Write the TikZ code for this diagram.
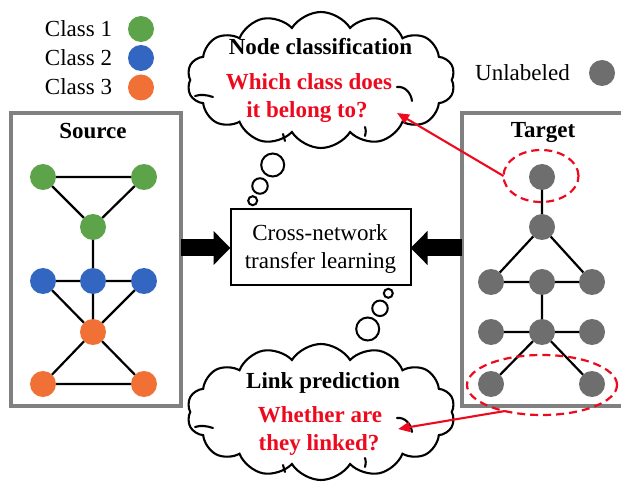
\documentclass[tikz,border=0pt]{standalone}
\usepackage{fontspec}
\setmainfont{Liberation Serif}
\usetikzlibrary{shapes.geometric,shapes.symbols,arrows.meta}
\definecolor{cgreen}{RGB}{92,163,74}
\definecolor{cblue}{RGB}{50,102,192}
\definecolor{corange}{RGB}{240,112,54}
\definecolor{cgray}{RGB}{110,110,110}
\definecolor{boxgray}{RGB}{128,128,128}
\definecolor{cred}{RGB}{238,10,30}
\begin{document}
\begin{tikzpicture}[x=1pt,y=-1pt,
  every node/.style={inner sep=0pt,outer sep=0pt},
  txt/.style={font=\fontsize{23}{28}\selectfont,anchor=base},
  btxt/.style={txt,font=\fontsize{23}{28}\selectfont\bfseries},
  rtxt/.style={btxt,text=cred},
  dot/.style={circle,minimum size=26pt},
  gdot/.style={dot,fill=cgreen},
  bdot/.style={dot,fill=cblue},
  odot/.style={dot,fill=corange},
  udot/.style={dot,fill=cgray},
  edge/.style={draw=black,line width=2.2pt},
  panel/.style={draw=boxgray,line width=3.2pt,rectangle},
  bubble/.style={circle,draw=black,line width=2pt,fill=white},
  cloudbox/.style={cloud,draw=black,line width=2.1pt,fill=white,cloud puffs=14,cloud puff arc=115,aspect=1.94,minimum width=268pt,minimum height=136pt},
  inner/.style={draw=black,line width=2.1pt,line cap=round},
  fat/.style={line width=17pt,-{Triangle[length=17pt,width=33pt]}},
  redline/.style={draw=cred,line width=2.1pt,-{Triangle[length=12pt,width=10pt]}},
  redell/.style={ellipse,draw=cred,line width=2.2pt,dash pattern=on 8pt off 5pt}
]
\useasboundingbox (0,0) rectangle (621,486);

% legend
\node[txt,anchor=base east] (l1) at (112,36.5) {Class 1};
\node[txt,anchor=base east] (l2) at (112,65.5) {Class 2};
\node[txt,anchor=base east] (l3) at (112,95) {Class 3};
\node[gdot] (lg) at (141,29) {};
\node[bdot] (lb) at (141,58) {};
\node[odot] (lo) at (141,87.5) {};
\node[txt] (lu) at (522.5,81) {Unlabeled};
\node[udot] (lud) at (602,73) {};

% panels
\node[panel,minimum width=170pt,minimum height=293pt] (src) at (96,259.5) {};
\node[panel,minimum width=164pt,minimum height=293pt] (tgt) at (544,259.5) {};
\node[btxt] (srct) at (93,139) {Source};
\node[btxt] (tgtt) at (543,138) {Target};

% source graph
\node[gdot] (g1) at (43,177) {};
\node[gdot] (g2) at (144,177) {};
\node[gdot] (g3) at (93,227) {};
\node[bdot] (b1) at (43,281) {};
\node[bdot] (b2) at (93,281) {};
\node[bdot] (b3) at (144,281) {};
\node[odot] (o1) at (93,332) {};
\node[odot] (o2) at (43,384) {};
\node[odot] (o3) at (144,384) {};
\draw[edge] (g1)--(g2) (g1)--(g3) (g2)--(g3) (g3)--(b2)
  (b1)--(b2) (b2)--(b3) (b1)--(o1) (b2)--(o1) (b3)--(o1)
  (o1)--(o2) (o1)--(o3) (o2)--(o3);

% target graph
\node[udot] (t1) at (542,177) {};
\node[udot] (t2) at (542,227) {};
\node[udot] (t3) at (491,282) {};
\node[udot] (t4) at (542,282) {};
\node[udot] (t5) at (592,282) {};
\node[udot] (t6) at (491,332) {};
\node[udot] (t7) at (542,332) {};
\node[udot] (t8) at (592,332) {};
\node[udot] (t9) at (491,384) {};
\node[udot] (t10) at (592,384) {};
\draw[edge] (t1)--(t2) (t2)--(t3) (t2)--(t5) (t3)--(t4) (t4)--(t5)
  (t4)--(t7) (t6)--(t7) (t7)--(t8) (t7)--(t9) (t7)--(t10);

% centre box
\node[draw=black,line width=2pt,minimum width=180pt,minimum height=76pt] (mid) at (320.5,247.5) {};
\node[txt] (m1) at (320,241) {Cross-network};
\node[txt] (m2) at (320.5,269) {transfer learning};
\draw[fat] (src.east |- 0,248) coordinate (sa) -- (mid.west |- 0,248) coordinate (sb);
\draw[fat] (tgt.west |- 0,248) coordinate (ta) -- (mid.east |- 0,248) coordinate (tb);

% thought bubbles
\node[bubble,minimum size=23pt] (u1) at (272.7,165) {};
\node[bubble,minimum size=15.5pt] (u2) at (260,186) {};
\node[bubble,minimum size=9pt] (u3) at (252.7,200.7) {};
\node[bubble,minimum size=9pt] (d1) at (388.3,293.3) {};
\node[bubble,minimum size=15.5pt] (d2) at (380,308.3) {};
\node[bubble,minimum size=23pt] (d3) at (367.7,329) {};

% clouds
\node[cloudbox] (c1) at (321,80) {};
\node[cloudbox] (c2) at (321,412) {};
\foreach \dy in {0,331}{
  \draw[inner] (397,87+\dy) .. controls (405,86+\dy) and (411,93+\dy) .. (412,101+\dy);
  \draw[inner] (195,96+\dy) .. controls (201,94+\dy) and (207,95+\dy) .. (213,97+\dy);
  \draw[inner] (283,134+\dy) -- (285,141+\dy);
  \draw[inner] (365,127+\dy) .. controls (366,131+\dy) .. (365,136+\dy);
}
\node[btxt] (c1a) at (320.5,55) {Node classification};
\node[rtxt] (c1b) at (309,90) {Which class does};
\node[rtxt] (c1c) at (307,118) {it belong to?};
\node[btxt] (c2a) at (323,388) {Link prediction};
\node[rtxt] (c2b) at (320,422) {Whether are};
\node[rtxt] (c2c) at (319,450) {they linked?};

% red highlights
\node[redell,minimum width=75pt,minimum height=52pt] (e1) at (541,176) {};
\node[redell,minimum width=150pt,minimum height=60pt] (e2) at (542,385) {};
\coordinate (p1) at (397,113);
\coordinate (p2) at (398,429);
\draw[redline] (e1.west) -- (p1);
\draw[redline] (e2.215) -- (p2);
\end{tikzpicture}
\end{document}
